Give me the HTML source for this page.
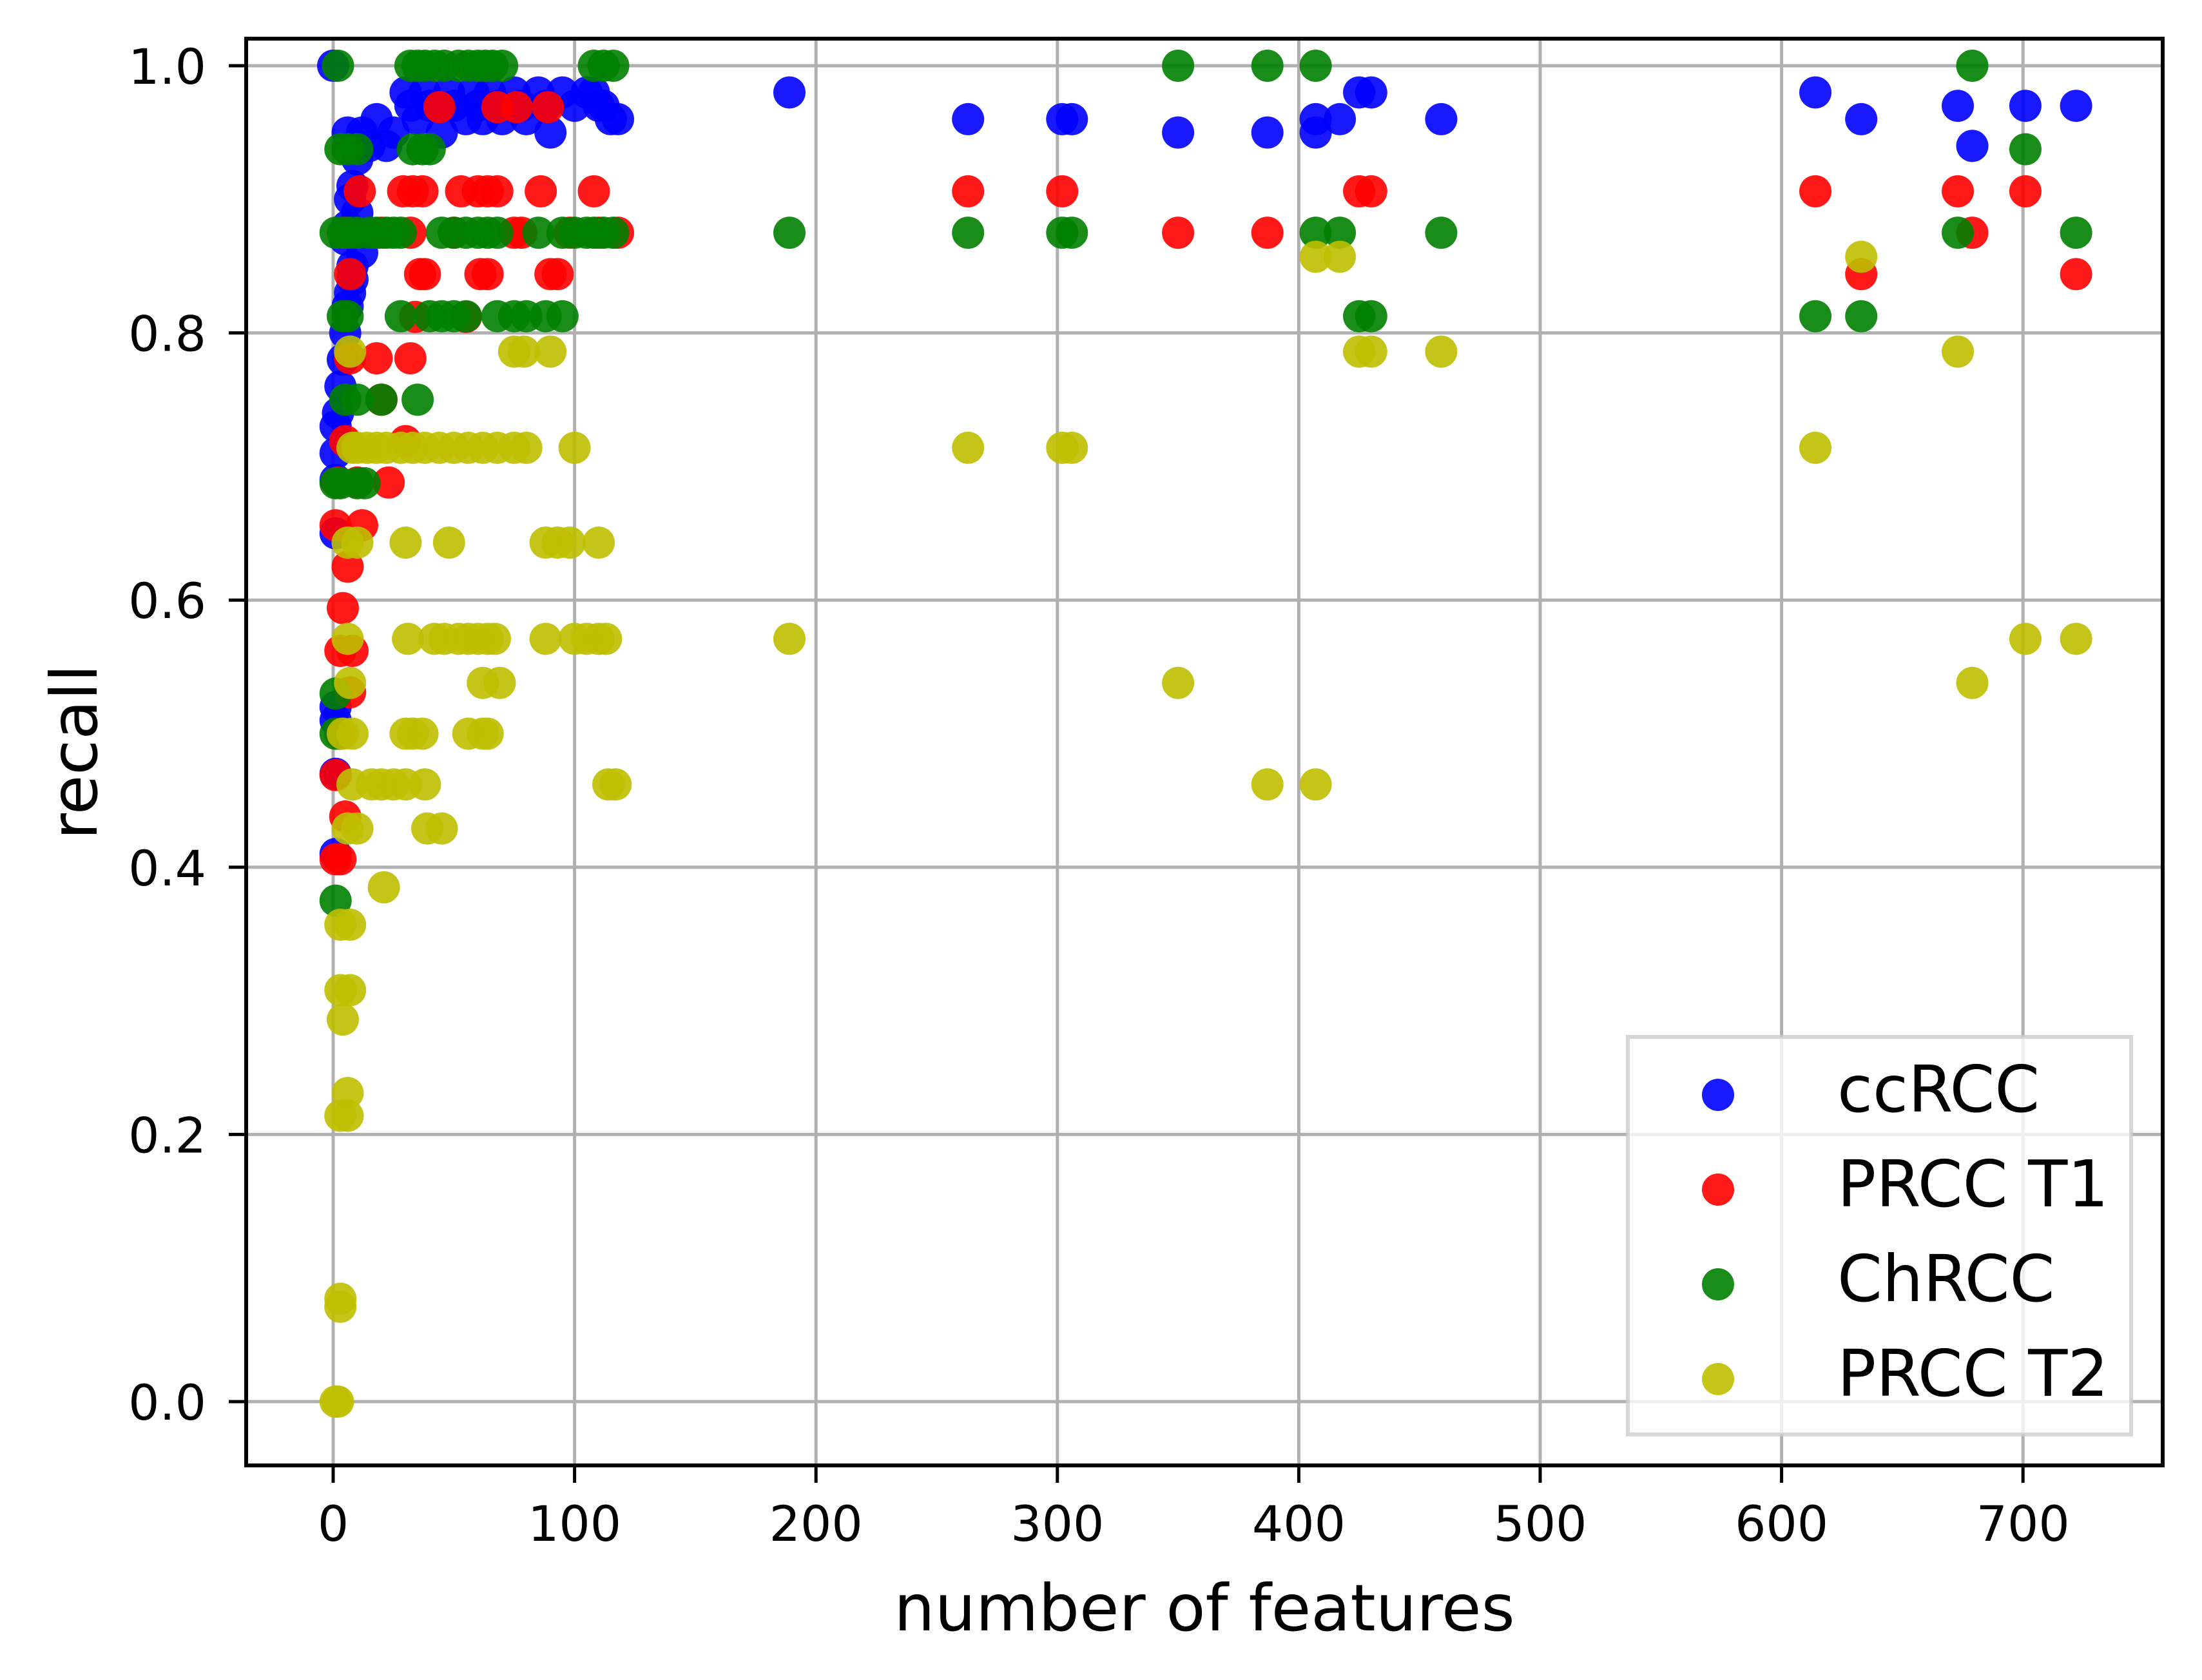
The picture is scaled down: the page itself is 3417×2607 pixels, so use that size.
<!DOCTYPE html>
<html><head><meta charset="utf-8"><style>
html,body{margin:0;padding:0;background:#fff}
svg{display:block}
text{font-family:"DejaVu Sans","Liberation Sans",sans-serif;fill:#000}
</style></head><body>
<svg id="chart" xmlns="http://www.w3.org/2000/svg" width="3417" height="2607" viewBox="0 0 3417 2607">
<rect x="0" y="0" width="3417" height="2607" fill="#fff"/>
<g id="grid"></g>
<g id="marks"></g>
<rect x="382" y="60" width="2974" height="2214" fill="none" stroke="#000" stroke-width="6"/>
<g id="ticks"></g>
<text x="1869" y="2530" font-size="100" text-anchor="middle">number of features</text>
<text x="150" y="1167" font-size="100" text-anchor="middle" transform="rotate(-90 150 1167)">recall</text>
<g id="legend"></g>
</svg>
<script>
const xTicks=[0,100,200,300,400,500,600,700];
const yTicks=[0.0,0.2,0.4,0.6,0.8,1.0];
const yTickLabels=["0.0","0.2","0.4","0.6","0.8","1.0"];
const seriesNames=["ccRCC","PRCC T1","ChRCC","PRCC T2"];
const seriesColors=["#0000ff","#ff0000","#008000","#bfbf00"];
const ccRCC=[[0,1],[1,0.41],[1,0.47],[1,0.51],[1,0.52],[1,0.65],[1,0.69],[1,0.71],[1,0.73],[2,0.74],[3,0.76],[4,0.78],[5,0.8],[6,0.82],[7,0.83],[8,0.85],[5,0.87],[6,0.88],[7,0.9],[8,0.91],[10,0.93],[12,0.95],[6,0.95],[9,0.94],[15,0.94],[18,0.96],[22,0.94],[25,0.95],[30,0.98],[32,0.97],[35,0.96],[38,0.98],[40,0.97],[45,0.95],[48,0.98],[50,0.97],[55,0.96],[58,0.98],[60,0.97],[62,0.96],[65,0.98],[68,0.97],[70,0.96],[75,0.98],[78,0.97],[80,0.96],[85,0.98],[88,0.97],[90,0.95],[95,0.98],[100,0.97],[105,0.98],[108,0.98],[110,0.97],[112,0.97],[115,0.96],[118,0.96],[12,0.86],[8,0.84],[10,0.89],
[189,0.98],[263,0.96],[302,0.96],[306,0.96],[350,0.95],[387,0.95],[407,0.95],[407,0.96],[417,0.96],[425,0.98],[430,0.98],[459,0.96],[614,0.98],[633,0.96],[673,0.97],[679,0.94],[701,0.97],[722,0.97]];
const prccT1=[[44,0.969],[68,0.969],[76,0.969],[89,0.969],[11,0.906],[29,0.906],[33,0.906],[37,0.906],[53,0.906],[60,0.906],[64,0.906],[68,0.906],[86,0.906],[108,0.906],[5,0.875],[20,0.875],[32,0.875],[50,0.875],[75,0.875],[78,0.875],[98,0.875],[110,0.875],[118,0.875],[7,0.844],[36,0.844],[38,0.844],[61,0.844],[64,0.844],[90,0.844],[93,0.844],[34,0.812],[55,0.812],[7,0.781],[18,0.781],[32,0.781],[20,0.75],[5,0.719],[30,0.719],[2,0.688],[10,0.688],[23,0.688],[1,0.656],[12,0.656],[6,0.625],[4,0.594],[3,0.562],[8,0.562],[7,0.531],[3,0.5],[1,0.469],[5,0.438],[1,0.406],[3,0.406],
[263,0.906],[302,0.906],[350,0.875],[387,0.875],[425,0.906],[430,0.906],[614,0.906],[633,0.844],[673,0.906],[679,0.875],[701,0.906],[722,0.844]];
const chRCC=[[2,1],[32,1],[35,1],[38,1],[42,1],[46,1],[52,1],[56,1],[60,1],[63,1],[66,1],[70,1],[108,1],[112,1],[116,1],[3,0.9375],[6,0.9375],[10,0.9375],[33,0.9375],[37,0.9375],[40,0.9375],[1,0.875],[4,0.875],[7,0.875],[10,0.875],[15,0.875],[18,0.875],[22,0.875],[25,0.875],[28,0.875],[45,0.875],[50,0.875],[55,0.875],[60,0.875],[64,0.875],[68,0.875],[85,0.875],[95,0.875],[100,0.875],[105,0.875],[108,0.875],[112,0.875],[116,0.875],[4,0.8125],[6,0.8125],[28,0.8125],[40,0.8125],[45,0.8125],[50,0.8125],[55,0.8125],[68,0.8125],[75,0.8125],[80,0.8125],[88,0.8125],[95,0.8125],[5,0.75],[10,0.75],[20,0.75],[35,0.75],[1,0.6875],[3,0.6875],[10,0.6875],[13,0.6875],[1,0.53],[1,0.5],[1,0.375],
[189,0.875],[263,0.875],[302,0.875],[306,0.875],[350,1],[387,1],[407,1],[407,0.875],[417,0.875],[425,0.8125],[430,0.8125],[459,0.875],[614,0.8125],[633,0.8125],[673,0.875],[679,1],[701,0.9375],[722,0.875]];
const prccT2=[[7,0.786],[75,0.786],[79,0.786],[90,0.786],[8,0.714],[10,0.714],[14,0.714],[18,0.714],[22,0.714],[28,0.714],[33,0.714],[38,0.714],[44,0.714],[50,0.714],[56,0.714],[62,0.714],[68,0.714],[75,0.714],[80,0.714],[100,0.714],[6,0.643],[10,0.643],[30,0.643],[48,0.643],[88,0.643],[93,0.643],[98,0.643],[110,0.643],[6,0.571],[31,0.571],[42,0.571],[46,0.571],[52,0.571],[56,0.571],[60,0.571],[64,0.571],[67,0.571],[88,0.571],[100,0.571],[105,0.571],[110,0.571],[113,0.571],[7,0.538],[62,0.538],[69,0.538],[4,0.5],[8,0.5],[30,0.5],[33,0.5],[37,0.5],[56,0.5],[62,0.5],[64,0.5],[8,0.462],[16,0.462],[20,0.462],[25,0.462],[30,0.462],[38,0.462],[114,0.462],[117,0.462],[6,0.429],[10,0.429],[39,0.429],[45,0.429],[21,0.385],[3,0.357],[7,0.357],[3,0.308],[7,0.308],[4,0.286],[6,0.231],[3,0.214],[6,0.214],[3,0.077],[3,0.071],[1,0],[2,0],
[189,0.571],[263,0.714],[302,0.714],[306,0.714],[350,0.538],[387,0.462],[407,0.462],[407,0.857],[417,0.857],[425,0.786],[430,0.786],[459,0.786],[614,0.714],[633,0.857],[673,0.786],[679,0.538],[701,0.571],[722,0.571]];
const allSeries=[ccRCC,prccT1,chRCC,prccT2];

const NS="http://www.w3.org/2000/svg";
const X0=382,X1=3356,Y0=60,Y1=2274;
function xs(v){return 517+v*3.746;}
function ys(v){return 2175-v*2073;}
function mk(tag,attrs,parent){const e=document.createElementNS(NS,tag);for(const k in attrs)e.setAttribute(k,attrs[k]);parent.appendChild(e);return e;}
const grid=document.getElementById('grid'),ticks=document.getElementById('ticks'),marks=document.getElementById('marks'),legend=document.getElementById('legend');
xTicks.forEach(t=>{
  const gl=mk('line',{x1:xs(t),x2:xs(t),y1:Y0,y2:Y1,stroke:'#b0b0b0','stroke-width':5},grid);
  
  
  const tk=mk('line',{x1:xs(t),x2:xs(t),y1:Y1,y2:Y1+27,stroke:'#000','stroke-width':5},ticks);
  
  
  const tl=mk('text',{x:xs(t),y:2391,'font-size':76,'text-anchor':'middle'},ticks);
  tl.textContent=String(t);
  
  
});
yTicks.forEach((t,i)=>{
  const gl=mk('line',{x1:X0,x2:X1,y1:ys(t),y2:ys(t),stroke:'#b0b0b0','stroke-width':5},grid);
  
  
  const tk=mk('line',{x1:X0-27,x2:X0,y1:ys(t),y2:ys(t),stroke:'#000','stroke-width':5},ticks);
  
  
  const tl=mk('text',{x:320,y:ys(t)+28,'font-size':76,'text-anchor':'end'},ticks);
  tl.textContent=yTickLabels[i];
  
  
});
allSeries.forEach((s,si)=>{
  const g=mk('g',{},marks);
  
  
  s.forEach(p=>{
    const c=mk('circle',{cx:xs(p[0]),cy:ys(p[1]),r:25,fill:seriesColors[si],'fill-opacity':0.9},g);
    
    
  });
});
const box=mk('rect',{x:2526,y:1609,width:781,height:617,fill:'#fff','fill-opacity':0.8,stroke:'#cccccc','stroke-opacity':0.8,'stroke-width':6},legend);


const legY=[1699,1846,1993,2140];
seriesNames.forEach((n,i)=>{
  const g=mk('g',{},legend);
  
  
  const c=mk('circle',{cx:2666,cy:legY[i],r:25,fill:seriesColors[i],'fill-opacity':0.9},g);
  
  
  const t=mk('text',{x:2851,y:legY[i]+26,'font-size':100},g);
  t.textContent=n;
  
  
});
</script>
</body></html>
